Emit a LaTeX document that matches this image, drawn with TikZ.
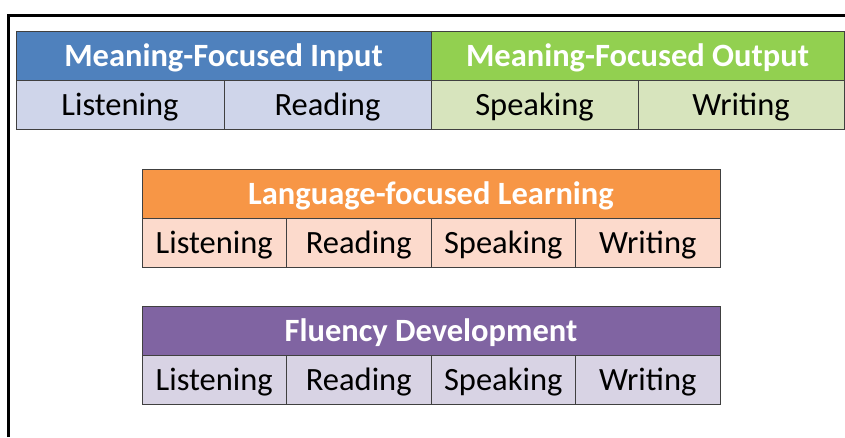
\documentclass[tikz,border=0pt]{standalone}
\usepackage{fontspec}
\setmainfont{Carlito}
\usetikzlibrary{positioning}
\definecolor{inblue}{HTML}{4F81BD}
\definecolor{inblueL}{HTML}{CFD5EA}
\definecolor{outgreen}{HTML}{92D050}
\definecolor{outgreenL}{HTML}{D7E4BD}
\definecolor{langorange}{HTML}{F79646}
\definecolor{langorangeL}{HTML}{FCDACC}
\definecolor{flupurple}{HTML}{8064A2}
\definecolor{flupurpleL}{HTML}{D8D3E4}
\begin{document}
\begin{tikzpicture}[x=1pt, y=-1pt,
	box/.style={draw=black!75, line width=1pt, outer sep=0pt, inner sep=0pt,
		minimum height=49pt, text height=22pt, text depth=0pt,
		font=\fontsize{32.5}{38}\selectfont},
	head/.style={box, text=white, font=\fontsize{32.5}{38}\selectfont\bfseries},
	cell/.style={box, minimum width=#1}, cell/.default=144.5pt]
	\useasboundingbox (0,0) rectangle (845,437);
	\draw[line width=3pt] (8.5,437) |- (845,15);
	% meaning-focused strands
	\node[head, fill=inblue, minimum width=415pt, anchor=north west] (mfi) at (16,31) {Meaning-Focused Input};
	\node[head, fill=outgreen, minimum width=413pt, right=0pt of mfi] (mfo) {Meaning-Focused Output};
	\node[cell=208pt, fill=inblueL, below right=0pt of mfi.south west] (mfi-l) {Listening};
	\node[cell=207pt, fill=inblueL, right=0pt of mfi-l] (mfi-r) {Reading};
	\node[cell=207pt, fill=outgreenL, right=0pt of mfi-r] (mfo-s) {Speaking};
	\node[cell=206pt, fill=outgreenL, right=0pt of mfo-s] (mfo-w) {Writing};
	% language-focused learning
	\node[head, fill=langorange, minimum width=578pt, anchor=north west] (lfl) at (142,169) {Language-focused Learning};
	\node[cell, fill=langorangeL, below right=0pt of lfl.south west] (lfl-l) {Listening};
	\node[cell, fill=langorangeL, right=0pt of lfl-l] (lfl-r) {Reading};
	\node[cell, fill=langorangeL, right=0pt of lfl-r] (lfl-s) {Speaking};
	\node[cell, fill=langorangeL, right=0pt of lfl-s] (lfl-w) {Writing};
	% fluency development
	\node[head, fill=flupurple, minimum width=578pt, anchor=north west] (fd) at (142,306) {Fluency Development};
	\node[cell, fill=flupurpleL, below right=0pt of fd.south west] (fd-l) {Listening};
	\node[cell, fill=flupurpleL, right=0pt of fd-l] (fd-r) {Reading};
	\node[cell, fill=flupurpleL, right=0pt of fd-r] (fd-s) {Speaking};
	\node[cell, fill=flupurpleL, right=0pt of fd-s] (fd-w) {Writing};
\end{tikzpicture}
\end{document}
